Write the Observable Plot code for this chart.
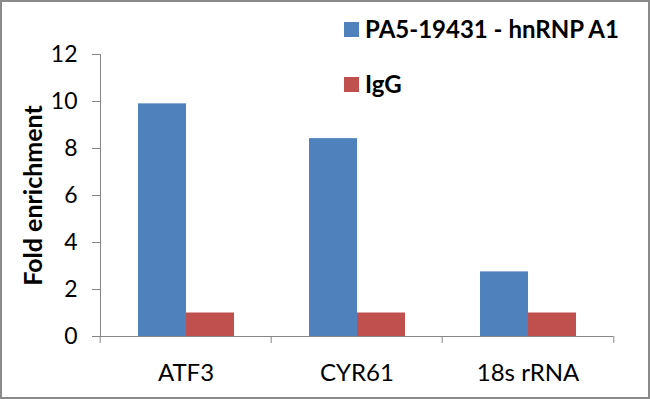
<!DOCTYPE html>
<html><head><meta charset="utf-8">
<script src="https://cdn.jsdelivr.net/npm/d3@7"></script>
<script src="https://cdn.jsdelivr.net/npm/@observablehq/plot@0.6"></script>
<style>
body{margin:0;background:#fff}
#wrap{position:relative;width:650px;height:399px;overflow:hidden;font-family:Lato,sans-serif;background:#fff}
#chart{position:absolute;left:0;top:0}
#border{position:absolute;left:0;top:0;width:650px;height:399px;box-sizing:border-box;border:2px solid #8a8a8a;pointer-events:none}
.legend{position:absolute;left:344px;font-weight:bold;font-size:24px;color:#000;display:flex;align-items:center;line-height:1;white-space:nowrap}
.sw{width:15px;height:15px;margin-right:6px;flex:none}
</style></head><body>
<div id="wrap"><div id="chart"></div>
<div id="lg"></div>
<div id="border"></div></div>
<script>
const categories = ["ATF3", "CYR61", "18s rRNA"];
const seriesNames = ["PA5-19431 - hnRNP A1", "IgG"];
const hnrnpValues = [9.9, 8.42, 2.75];
const iggValues = [1.0, 1.0, 1.0];
const yTicks = [0, 2, 4, 6, 8, 10, 12];
const colors = ["#4F81BD", "#C0504D"];
const yTitle = "Fold enrichment";

const data = categories.flatMap((c, i) => [
  {category: c, series: seriesNames[0], value: hnrnpValues[i]},
  {category: c, series: seriesNames[1], value: iggValues[i]}
]);

const axisColor = "#868686";
const half = (650 - 99 - 36) / 6;
const chart = Plot.plot({
  width: 650, height: 399,
  marginLeft: 99, marginRight: 36, marginTop: 54, marginBottom: 63,
  style: {fontFamily: "Lato, sans-serif", background: "transparent", color: "#000"},
  fx: {domain: categories, padding: 0, label: null},
  x: {domain: seriesNames, paddingInner: 0, paddingOuter: 0.76, axis: null},
  y: {domain: [0, 12], label: null},
  color: {domain: seriesNames, range: colors},
  marks: [
    Plot.barY(data, {fx: "category", x: "series", y: "value", fill: "series"}),
    Plot.ruleY([0], {stroke: axisColor, strokeWidth: 1}),
    Plot.frame({anchor: "left", facetAnchor: "left", stroke: axisColor}),
    Plot.axisY({ticks: yTicks, tickSize: 8, tickPadding: 15, fontSize: 23, stroke: axisColor, fill: "#000", label: null, strokeOpacity: 1}),
    Plot.axisFx({anchor: "bottom", tickSize: 7, tickFormat: () => "", dx: -half, stroke: axisColor, label: null, strokeOpacity: 1}),
    Plot.axisFx({anchor: "bottom", ticks: [categories[categories.length - 1]], tickSize: 7, tickFormat: () => "", dx: half, stroke: axisColor, label: null, strokeOpacity: 1}),
    Plot.axisFx({anchor: "bottom", tickSize: 0, tickPadding: 27, fontSize: 24, fill: "#000", label: null}),
    Plot.text([yTitle], {frameAnchor: "left", facetAnchor: "left", textAnchor: "middle", rotate: -90, dx: -67, fontSize: 25, fontWeight: "bold", fill: "#000"})
  ]
});
document.getElementById("chart").appendChild(chart);

const lg = document.getElementById("lg");
const legendTops = [21, 76];
seriesNames.forEach((s, i) => {
  const row = document.createElement("div");
  row.className = "legend";
  row.style.top = (legendTops[i] - 4) + "px";
  const sw = document.createElement("span");
  sw.className = "sw";
  sw.style.background = colors[i];
  const t = document.createElement("span");
  t.textContent = s;
  row.appendChild(sw);
  row.appendChild(t);
  lg.appendChild(row);
});
</script>
</body></html>
